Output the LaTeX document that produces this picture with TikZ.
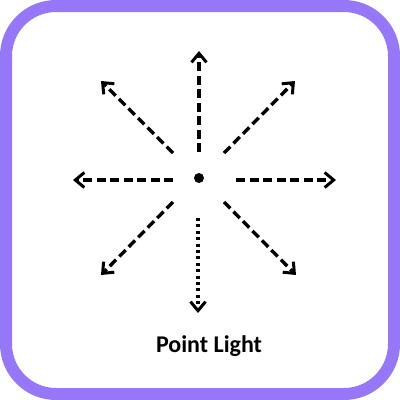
\documentclass[tikz,border=0pt]{standalone}
\usepackage{fontspec}
\setmainfont{Carlito}
\usetikzlibrary{arrows.meta}
\definecolor{frame}{HTML}{9677F7}
\tikzset{
  ray/.style={line width=3.4pt, dash pattern=on 9pt off 4.5pt, -{Straight Barb[length=9pt,width=15pt,line width=3pt]}},
  dotray/.style={line width=3.2pt, dash pattern=on 3pt off 3.4pt, -{Straight Barb[length=9pt,width=15pt,line width=3pt]}},
}
\begin{document}
\begin{tikzpicture}[x=1pt,y=-1pt]
\useasboundingbox (0,0) rectangle (400,400);
\fill[white] (0,0) rectangle (400,400);
\draw[frame, line width=12pt, fill=white, rounded corners=50pt] (6,6) rectangle (394,394);
\node[circle, fill=black, inner sep=0pt, minimum size=10pt] (c) at (199,178) {};
% ray start and end points
\coordinate (sN) at (199,152);  \coordinate (eN) at (199,51);
\coordinate (sNE) at (224,153); \coordinate (eNE) at (295,81);
\coordinate (sE) at (236,180);  \coordinate (eE) at (336,180);
\coordinate (sSE) at (224,202); \coordinate (eSE) at (296,275);
\coordinate (sS) at (198,218);  \coordinate (eS) at (198,313);
\coordinate (sSW) at (173,202); \coordinate (eSW) at (101,275);
\coordinate (sW) at (173,180);  \coordinate (eW) at (73,180);
\coordinate (sNW) at (173,153); \coordinate (eNW) at (101,81);
\draw[ray] (sN) -- (eN);
\draw[ray] (sNE) -- (eNE);
\draw[ray] (sE) -- (eE);
\draw[ray] (sSE) -- (eSE);
\draw[dotray] (sS) -- (eS);
\draw[ray] (sSW) -- (eSW);
\draw[ray] (sW) -- (eW);
\draw[ray] (sNW) -- (eNW);
\node[font=\bfseries\fontsize{24}{28}\selectfont, inner sep=0pt] (lbl) at (209,346) {Point Light};
\end{tikzpicture}
\end{document}
